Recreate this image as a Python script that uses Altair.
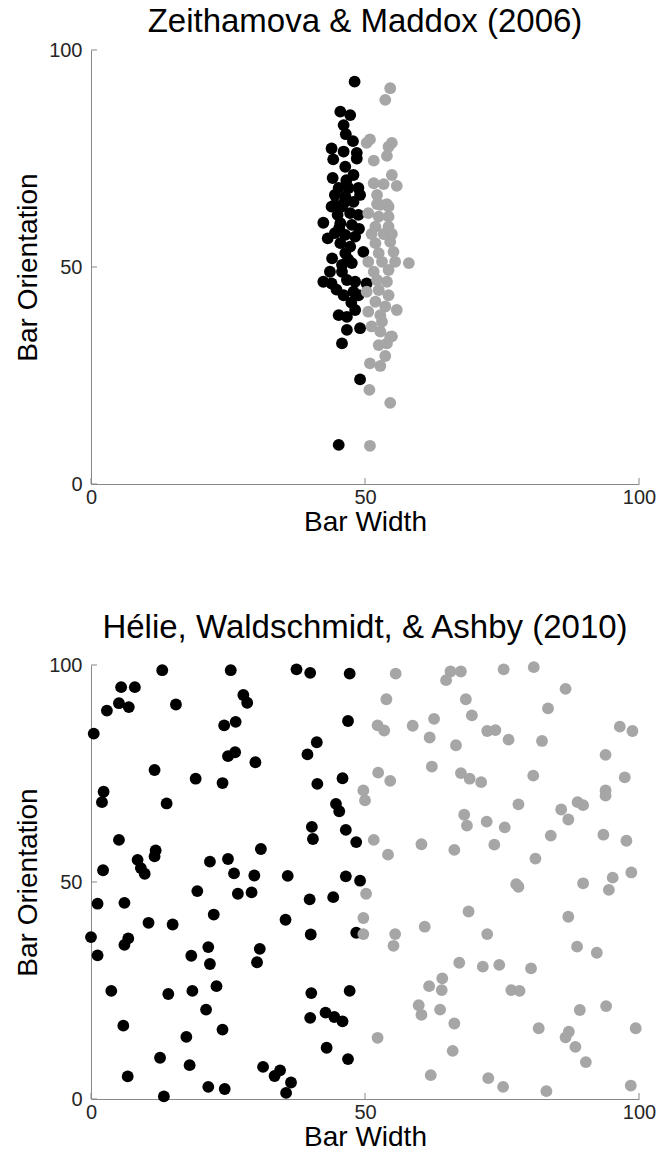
import altair as alt
import pandas as pd

# ---------------- Zeithamova & Maddox (2006) ----------------
top_black_x = [48.1, 45.5, 47.3, 46.1, 46.5, 43.9, 46.1, 48.5, 44.2, 48.5, 46.4, 47.9, 45.2, 47.0, 48.8,
               44.5, 49.1, 46.4, 43.9, 45.8, 44.5, 46.1, 48.8, 47.3, 42.4, 45.5, 47.6, 44.5, 46.4, 48.2,
               45.5, 47.3, 49.7, 46.4, 45.8, 47.6, 43.6, 45.8, 42.4, 43.9, 46.7, 48.2, 50.3, 46.1, 47.9,
               48.8, 45.2, 46.7, 48.2, 46.7, 49.1, 45.8, 49.1, 45.2, 44.0, 46.9, 44.8, 47.5, 43.2, 48.9,
               45.0, 47.9, 44.1, 46.6, 47.8, 45.3]
top_black_y = [92.7, 85.8, 85.0, 82.7, 80.6, 77.3, 76.6, 76.3, 74.8, 75.0, 73.1, 71.2, 68.2, 68.2, 68.2,
               66.6, 66.6, 66.2, 63.9, 63.9, 64.3, 64.7, 62.0, 62.4, 60.2, 60.1, 59.7, 57.8, 57.4, 57.0,
               55.5, 54.7, 53.5, 53.2, 50.5, 50.9, 48.9, 48.9, 46.6, 46.2, 47.0, 46.6, 46.2, 43.5, 44.3,
               43.5, 38.9, 38.5, 40.1, 35.5, 35.9, 32.4, 24.1, 9.0, 52.0, 51.8, 44.8, 41.8, 56.6, 58.8,
               62.0, 65.0, 70.5, 70.0, 79.0, 59.0]
top_gray_x = [54.6, 53.7, 50.9, 50.3, 54.9, 54.3, 54.0, 51.6, 54.9, 51.6, 53.4, 55.8, 52.2, 52.8, 54.3,
              52.2, 54.0, 50.6, 52.5, 54.3, 51.9, 54.3, 51.2, 53.4, 54.9, 51.9, 54.6, 52.5, 55.2, 50.6,
              53.1, 55.5, 58.0, 51.6, 54.3, 52.2, 54.0, 50.3, 52.5, 54.3, 51.9, 53.7, 50.6, 55.8, 52.8,
              53.1, 51.2, 52.8, 54.9, 52.5, 54.0, 54.6, 53.7, 50.9, 52.8, 50.8, 54.6, 50.9]
top_gray_y = [91.2, 88.5, 79.4, 78.6, 78.6, 77.7, 75.6, 74.5, 71.2, 69.3, 69.1, 68.7, 66.6, 64.3, 63.9,
              64.5, 64.5, 62.4, 61.6, 61.6, 59.3, 59.3, 57.6, 57.6, 57.6, 55.5, 55.8, 53.2, 53.5, 51.2,
              51.2, 51.2, 50.9, 48.9, 49.3, 47.0, 46.6, 44.3, 44.7, 43.5, 42.0, 40.9, 39.7, 40.1, 38.9,
              37.4, 36.3, 35.1, 34.0, 32.0, 32.4, 33.9, 29.5, 27.8, 27.2, 21.7, 18.7, 8.8]

# ---------------- Helie, Waldschmidt, & Ashby (2010) ----------------
bot_black_x = [13.0, 25.5, 5.5, 8.0, 27.8, 28.5, 5.1, 6.9, 2.9, 15.5, 24.3, 26.4, 0.5, 25.0, 26.3,
               30.0, 11.6, 19.1, 24.0, 2.3, 2.0, 13.8, 5.1, 8.5, 9.1, 9.8, 11.8, 11.6, 21.7, 25.0,
               26.1, 29.8, 31.0, 2.2,
               37.5, 40.0, 47.2, 46.9, 41.2, 39.5, 45.9, 41.3, 44.7, 45.3, 40.3, 40.5, 46.5, 48.4,
               35.9, 46.5, 49.1,
               39.9, 44.2, 35.5, 40.1, 48.4, 40.2, 47.2, 40.0, 42.8, 44.4, 45.9, 43.0, 46.9, 34.5,
               33.5, 36.5, 35.6,
               19.4, 26.8, 29.3, 1.2, 6.1, 22.4, 10.5, 14.9, 0.0, 6.8, 6.1, 1.2, 21.4, 18.3, 21.7,
               30.8, 30.3, 3.7, 14.1, 18.5, 22.9, 21.0, 5.9, 24.0, 17.4, 12.6, 18.0, 6.7, 31.4, 21.4,
               24.4, 13.3]
bot_black_y = [98.8, 98.8, 94.9, 94.9, 93.1, 91.3, 91.2, 90.3, 89.5, 90.9, 86.1, 86.9, 84.2, 79.0, 79.9,
               77.6, 75.8, 73.8, 72.8, 70.8, 68.4, 68.1, 59.7, 55.1, 53.2, 51.9, 57.3, 55.9, 54.7, 55.3,
               52.0, 51.5, 57.6, 52.7,
               99.0, 98.2, 98.0, 87.1, 82.2, 79.4, 73.9, 72.6, 68.0, 66.3, 62.7, 59.9, 62.0, 59.2,
               51.4, 51.3, 50.3,
               46.0, 46.5, 41.3, 37.9, 38.3, 24.4, 24.9, 18.7, 19.9, 18.9, 17.9, 11.8, 9.2, 6.6,
               5.3, 3.8, 1.4,
               47.9, 47.3, 47.6, 45.0, 45.2, 42.5, 40.6, 40.2, 37.3, 37.0, 35.5, 33.1, 35.0, 33.0, 31.1,
               34.6, 31.5, 24.9, 24.2, 24.9, 26.0, 20.6, 16.9, 16.0, 14.3, 9.5, 7.8, 5.2, 7.4, 2.8,
               2.3, 0.6]
bot_gray_x = [55.6, 65.6, 64.8, 53.9, 62.6, 52.3, 53.5, 58.7, 61.8, 66.6, 62.2, 52.4, 54.6, 49.7, 50.0,
              51.6, 54.2, 60.3, 66.3,
              67.5, 75.3, 80.8, 86.6, 68.4, 83.4, 69.5, 72.3, 73.8, 76.2, 82.3, 96.5, 98.8, 93.9, 67.5,
              69.1, 71.2, 80.7, 97.4, 93.9, 93.9, 78.0, 88.8, 89.8, 85.8, 87.1, 68.1, 68.6, 72.2, 75.5,
              73.6, 83.9, 93.5, 97.7, 81.1, 95.2, 98.6,
              77.6, 78.0, 89.8, 94.5, 68.9, 87.1, 72.3, 88.7, 92.3, 67.2, 71.5, 74.5, 80.3, 76.7, 78.2,
              89.2, 94.0, 66.3, 81.7, 87.2, 86.6, 88.4, 90.3, 99.4, 66.0, 72.5, 75.2, 83.1, 98.5,
              50.2, 49.7, 49.7, 55.5, 55.2, 60.9, 64.1, 64.0, 61.7, 59.8, 60.3, 63.7, 52.3, 62.0]
bot_gray_y = [98.0, 98.5, 96.5, 92.1, 87.6, 86.1, 84.9, 86.0, 83.3, 81.5, 76.6, 75.2, 73.3, 71.1, 68.8,
              59.7, 56.3, 58.7, 57.4,
              98.5, 99.0, 99.5, 94.5, 92.1, 90.0, 88.4, 84.8, 85.0, 82.8, 82.5, 85.8, 84.8, 79.3, 75.1,
              73.8, 73.0, 74.5, 74.1, 71.1, 69.9, 67.9, 68.4, 67.7, 66.7, 64.4, 65.5, 63.0, 63.9, 62.6,
              58.6, 60.7, 60.9, 59.5, 55.4, 51.0, 52.2,
              49.5, 48.9, 49.7, 48.2, 43.2, 42.0, 38.0, 35.1, 33.7, 31.4, 30.5, 30.9, 30.1, 25.1, 24.9,
              20.5, 21.4, 17.4, 16.3, 15.5, 14.2, 12.0, 8.5, 16.3, 11.1, 4.8, 2.8, 1.8, 3.1,
              47.3, 41.7, 38.0, 38.0, 35.3, 39.7, 27.8, 25.1, 26.0, 21.6, 19.4, 20.6, 14.1, 5.5]

tick_values = [0, 50, 100]
titles = ["Zeithamova & Maddox (2006)", "Hélie, Waldschmidt, & Ashby (2010)"]
groups = ["A", "B"]
colors = ["#000000", "#a6a6a6"]

W, H = 548, 434
FONT = "Liberation Sans"


def make_df(bx, by, gx, gy):
    rows = [{"x": a, "y": b, "g": "A"} for a, b in zip(bx, by)]
    rows += [{"x": a, "y": b, "g": "B"} for a, b in zip(gx, gy)]
    return pd.DataFrame(rows)


def panel(df, title, title_offset):
    sx = alt.Scale(domain=[0, 100], nice=False, zero=False)
    sy = alt.Scale(domain=[0, 100], nice=False, zero=False)
    pts = alt.Chart(df).mark_circle(size=140, opacity=1).encode(
        x=alt.X("x:Q", scale=sx,
                axis=alt.Axis(values=tick_values, title="Bar Width", ticks=False, grid=False,
                              labelPadding=3, titlePadding=1)),
        y=alt.Y("y:Q", scale=sy,
                axis=alt.Axis(values=tick_values, title="Bar Orientation", ticks=False, grid=False,
                              labelPadding=9, titlePadding=6)),
        color=alt.Color("g:N", scale=alt.Scale(domain=groups, range=colors), legend=None),
        order=alt.Order("g:N"),
    )
    tdf = pd.DataFrame({"t": tick_values})
    xt = alt.Chart(tdf).mark_rule(color="#888888", strokeWidth=1).encode(
        x=alt.X("t:Q", scale=sx), y=alt.value(H), y2=alt.value(H - 6))
    yt = alt.Chart(tdf).mark_rule(color="#888888", strokeWidth=1).encode(
        y=alt.Y("t:Q", scale=sy), x=alt.value(0), x2=alt.value(6))
    return alt.layer(xt, yt, pts).properties(
        width=W, height=H,
        title=alt.TitleParams(title, fontSize=33, font=FONT, fontWeight="normal",
                              color="#000000", offset=title_offset, anchor="middle"))


top = panel(make_df(top_black_x, top_black_y, top_gray_x, top_gray_y), titles[0], 1)
bottom = panel(make_df(bot_black_x, bot_black_y, bot_gray_x, bot_gray_y), titles[1], 10)

chart = alt.vconcat(top, bottom, spacing=76).properties(
    padding={"left": 14, "top": 6, "right": 5, "bottom": 5}
).configure_view(stroke=None).configure_axis(
    domainColor="#888888", domainWidth=1,
    labelFont=FONT, labelFontSize=20, labelColor="#262626",
    titleFont=FONT, titleFontSize=28, titleColor="#000000", titleFontWeight="normal",
    labelFlush=False,
)

chart.save("out.html", embed_options={"renderer": "svg", "actions": False})
